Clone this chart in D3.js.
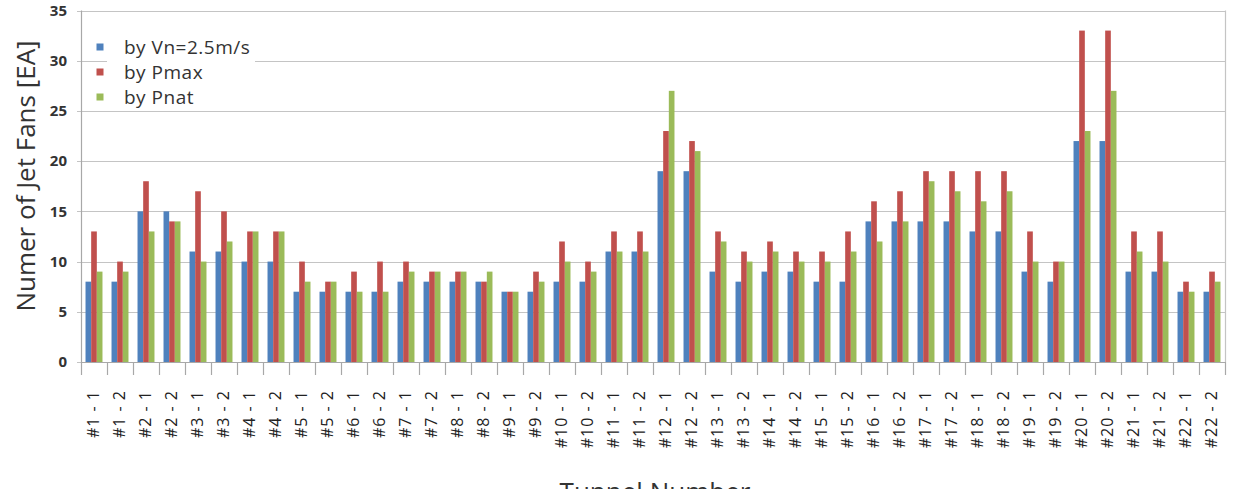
<!DOCTYPE html>
<html>
<head>
    <script src="https://d3js.org/d3.v7.min.js" charset="utf-8"></script>
    <style>
        body { margin: 0; background: #fff; }
        text { font-family: "Open Sans", sans-serif; }
    </style>
</head>
<body>
    <script>
        // tunnel labels, two bores per tunnel
        var tunnels = d3.range(1, 23)
        var categories = []
        tunnels.forEach(function (t) {
            categories.push("#" + t + " - 1")
            categories.push("#" + t + " - 2")
        })

        var seriesNames = ["by Vn=2.5m/s", "by Pmax", "by Pnat"]
        var seriesColors = ["#4f81bd", "#c0504d", "#9bbb59"]

        var byVn = [8, 8, 15, 15, 11, 11, 10, 10, 7, 7, 7, 7, 8, 8, 8, 8, 7, 7, 8, 8, 11, 11,
            19, 19, 9, 8, 9, 9, 8, 8, 14, 14, 14, 14, 13, 13, 9, 8, 22, 22, 9, 9, 7, 7]
        var byPmax = [13, 10, 18, 14, 17, 15, 13, 13, 10, 8, 9, 10, 10, 9, 9, 8, 7, 9, 12, 10, 13, 13,
            23, 22, 13, 11, 12, 11, 11, 13, 16, 17, 19, 19, 19, 19, 13, 10, 33, 33, 13, 13, 8, 9]
        var byPnat = [9, 9, 13, 14, 10, 12, 13, 13, 8, 8, 7, 7, 9, 9, 9, 9, 7, 8, 10, 9, 11, 11,
            27, 21, 12, 10, 11, 10, 10, 11, 12, 14, 18, 17, 16, 17, 10, 10, 23, 27, 11, 10, 7, 8]
        var seriesValues = [byVn, byPmax, byPnat]

        var yTicks = [0, 5, 10, 15, 20, 25, 30, 35]

        var W = 1239, H = 489
        var plotL = 81, plotR = 1225, plotT = 10.5, plotB = 362

        var svg = d3.select("body")
            .append("svg")
            .attr("width", W)
            .attr("height", H)

        var x0 = d3.scaleBand().domain(categories).range([plotL, plotR]).padding(0)
        var x1 = d3.scaleBand().domain([0, 1, 2]).range([0, x0.bandwidth()])
            .paddingInner(0).paddingOuter(0.8)
        var y = d3.scaleLinear().domain([0, 35]).range([plotB, plotT])

        // gridlines
        svg.append("g")
            .selectAll("line")
            .data(yTicks)
            .enter()
            .append("line")
            .attr("x1", plotL - 4)
            .attr("x2", plotR)
            .attr("y1", function (d) { return Math.round(y(d)) + 0.5 })
            .attr("y2", function (d) { return Math.round(y(d)) + 0.5 })
            .style("stroke", "#c4c4c4")
            .style("stroke-width", 1.2)

        // right border
        svg.append("line")
            .attr("x1", plotR + 0.5).attr("x2", plotR + 0.5)
            .attr("y1", y(35)).attr("y2", plotB)
            .style("stroke", "#c4c4c4")
            .style("stroke-width", 1.2)

        // y tick labels
        svg.append("g")
            .selectAll("text")
            .data(yTicks)
            .enter()
            .append("text")
            .attr("x", 67)
            .attr("y", function (d) { return y(d) })
            .attr("dy", "0.35em")
            .attr("text-anchor", "end")
            .style("font-size", "15px")
            .style("font-weight", "bold")
            .style("fill", "#333")
            .text(function (d) { return d })

        // legend background (covers gridline)
        svg.append("rect")
            .attr("x", 107).attr("y", 32)
            .attr("width", 148).attr("height", 74)
            .style("fill", "#fff")

        // bars
        var groups = svg.append("g")
            .selectAll("g")
            .data(categories)
            .enter()
            .append("g")
            .attr("transform", function (d) { return "translate(" + x0(d) + ",0)" })

        groups.selectAll("rect")
            .data(function (d, i) {
                return seriesValues.map(function (vals, s) { return { s: s, v: vals[i] } })
            })
            .enter()
            .append("rect")
            .attr("x", function (d) { return x1(d.s) })
            .attr("width", x1.bandwidth())
            .attr("y", function (d) { return y(d.v) })
            .attr("height", function (d) { return plotB - y(d.v) })
            .style("fill", function (d) { return seriesColors[d.s] })

        // left axis line
        svg.append("line")
            .attr("x1", plotL + 0.5).attr("x2", plotL + 0.5)
            .attr("y1", y(35)).attr("y2", plotB)
            .style("stroke", "#a8a8a8")
            .style("stroke-width", 1.2)

        // bottom axis line and boundary ticks
        svg.append("line")
            .attr("x1", plotL).attr("x2", plotR)
            .attr("y1", plotB + 0.5).attr("y2", plotB + 0.5)
            .style("stroke", "#a8a8a8")
            .style("stroke-width", 1.2)

        var bounds = categories.map(function (c) { return x0(c) }).concat([plotR])
        svg.append("g")
            .selectAll("line")
            .data(bounds)
            .enter()
            .append("line")
            .attr("x1", function (d) { return Math.round(d) + 0.5 })
            .attr("x2", function (d) { return Math.round(d) + 0.5 })
            .attr("y1", plotB)
            .attr("y2", plotB + 13)
            .style("stroke", "#a8a8a8")
            .style("stroke-width", 1.2)

        // x tick labels, rotated
        var xAxis = d3.axisBottom(x0).tickSize(0).tickPadding(0)
        var gx = svg.append("g")
            .attr("transform", "translate(0," + plotB + ")")
            .call(xAxis)
        gx.select(".domain").remove()
        gx.selectAll("text")
            .attr("transform", "rotate(-90)")
            .attr("x", -28)
            .attr("y", -1)
            .attr("dy", "0.35em")
            .attr("text-anchor", "end")
            .style("font-family", "'Open Sans', sans-serif")
            .style("font-size", "16px")
            .style("letter-spacing", "1px")
            .style("fill", "#222")

        // legend
        var legend = svg.append("g")
            .selectAll("g")
            .data(seriesNames)
            .enter()
            .append("g")
            .attr("transform", function (d, i) { return "translate(0," + (47 + i * 25) + ")" })
        legend.append("rect")
            .attr("x", 96.5).attr("y", -3.5)
            .attr("width", 7).attr("height", 7)
            .style("fill", function (d, i) { return seriesColors[i] })
        legend.append("text")
            .attr("x", 124)
            .attr("dy", "0.35em")
            .style("font-size", "19px")
            .style("letter-spacing", "0.5px")
            .style("fill", "#333")
            .text(function (d) { return d })

        // axis titles
        svg.append("text")
            .attr("transform", "translate(35,176) rotate(-90)")
            .attr("text-anchor", "middle")
            .style("font-size", "26px")
            .style("fill", "#333")
            .text("Numer of Jet Fans [EA]")

        svg.append("text")
            .attr("x", 655)
            .attr("y", 501)
            .attr("text-anchor", "middle")
            .style("font-size", "26px")
            .style("fill", "#333")
            .text("Tunnel Number")
    </script>
</body>
</html>
